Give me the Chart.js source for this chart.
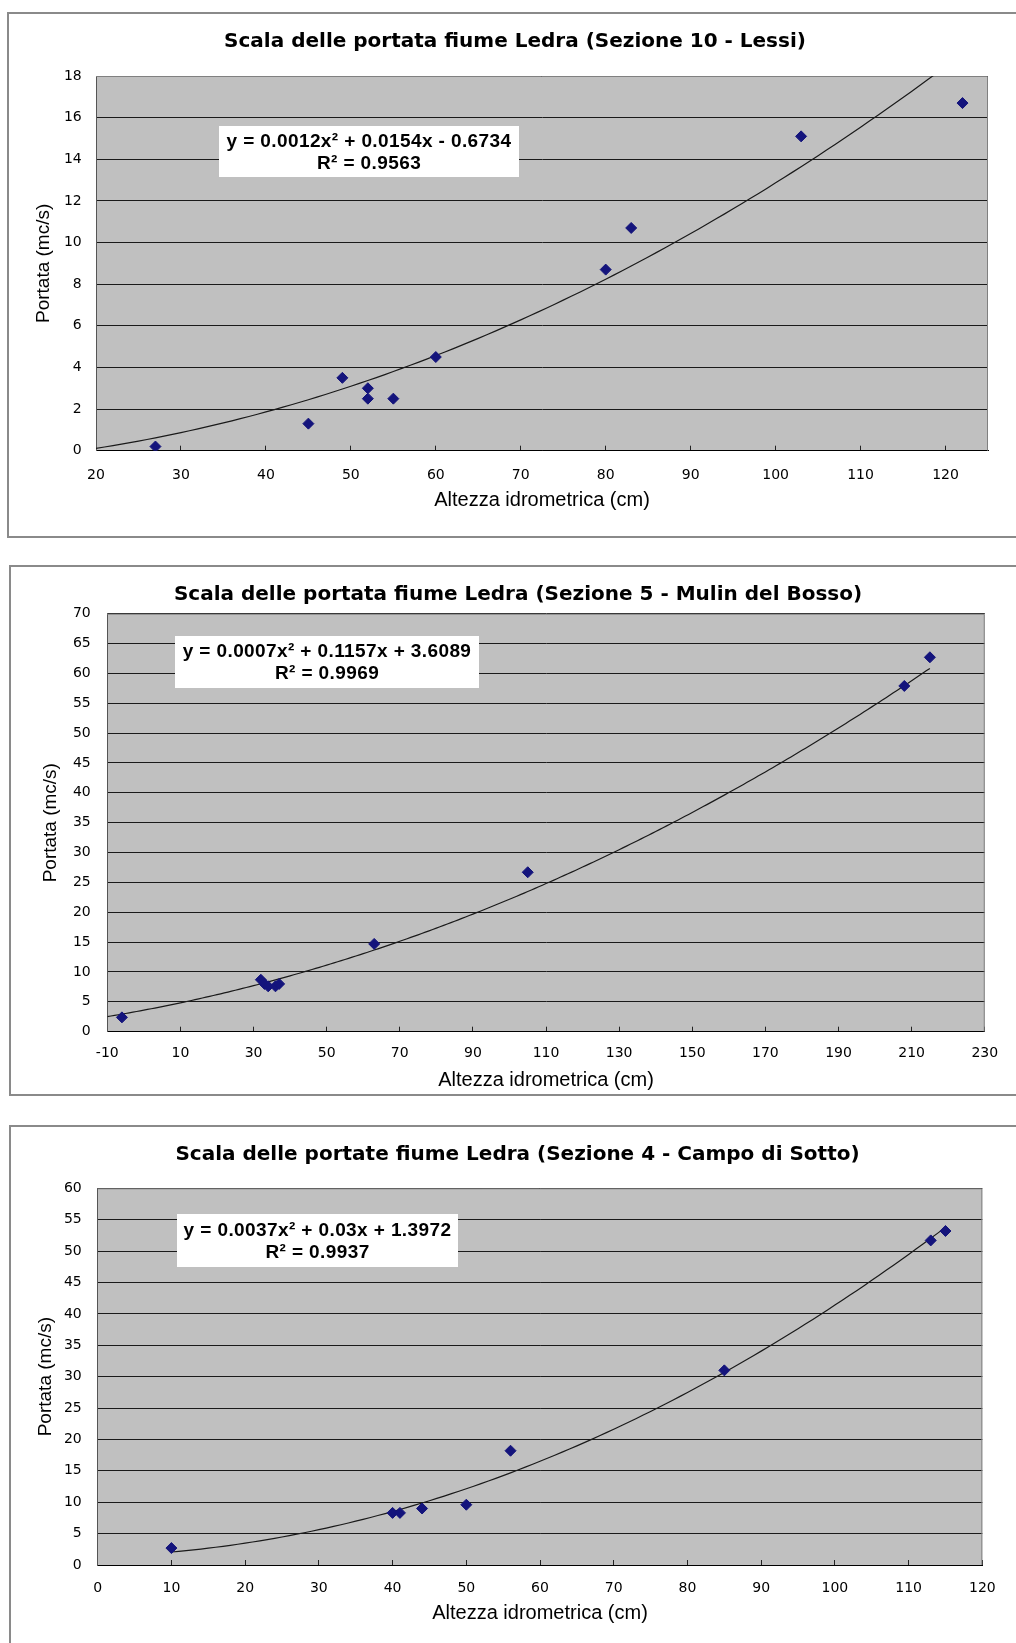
<!DOCTYPE html>
<html>
<head>
<meta charset="utf-8">
<script src="https://cdn.jsdelivr.net/npm/chart.js@4.4.1/dist/chart.umd.min.js"></script>
<style>
  html, body { margin: 0; padding: 0; background: #fff; overflow: hidden; }
  body { width: 1016px; height: 1643px; position: relative; }
  .wrap { position: absolute; left: 0; width: 1016px; }
  .frame { position: absolute; width: 1100px; border: 2px solid #8a8a8a; box-sizing: border-box; pointer-events: none; }
</style>
</head>
<body>
<div class="wrap" style="top:12px;height:525px"><canvas id="c1"></canvas></div>
<div class="frame" style="left:7px;top:12px;height:526px"></div>
<div class="wrap" style="top:565px;height:530px"><canvas id="c2"></canvas></div>
<div class="frame" style="left:9px;top:565px;height:531px"></div>
<div class="wrap" style="top:1125px;height:518px"><canvas id="c3"></canvas></div>
<div class="frame" style="left:9px;top:1125px;height:600px"></div>
<script>
// Sezione 10 - Lessi
const lessiH = [27, 45, 49, 52, 52, 55, 60, 80, 83, 103, 122];
const lessiQ = [0.2, 1.3, 3.5, 3.0, 2.5, 2.5, 4.5, 8.7, 10.7, 15.1, 16.7];
const lessiCoef = [0.0012, 0.0154, -0.6734];   // a x^2 + b x + c
const lessiTrendRange = [20, 122];
const lessiXTicks = [20, 30, 40, 50, 60, 70, 80, 90, 100, 110, 120];
const lessiYTicks = [0, 2, 4, 6, 8, 10, 12, 14, 16, 18];

// Sezione 5 - Mulin del Bosso
const bossoH = [-6, 32, 33, 34, 36, 37, 63, 105, 208, 215];
const bossoQ = [2.4, 8.7, 8.0, 7.6, 7.6, 8.0, 14.7, 26.7, 57.9, 62.7];
const bossoCoef = [0.0007, 0.1157, 3.6089];
const bossoTrendRange = [-10, 215];
const bossoXTicks = [-10, 10, 30, 50, 70, 90, 110, 130, 150, 170, 190, 210, 230];
const bossoYTicks = [0, 5, 10, 15, 20, 25, 30, 35, 40, 45, 50, 55, 60, 65, 70];

// Sezione 4 - Campo di Sotto
const campoH = [10, 40, 41, 44, 50, 56, 85, 113, 115];
const campoQ = [2.7, 8.3, 8.3, 9.0, 9.6, 18.2, 31.0, 51.7, 53.2];
const campoCoef = [0.0037, 0.03, 1.3972];
const campoTrendRange = [10, 115];
const campoXTicks = [0, 10, 20, 30, 40, 50, 60, 70, 80, 90, 100, 110, 120];
const campoYTicks = [0, 5, 10, 15, 20, 25, 30, 35, 40, 45, 50, 55, 60];

const xTitle = 'Altezza idrometrica (cm)';
const yTitle = 'Portata (mc/s)';

// trend line points straight from the equation printed on the chart
function trendPoints(coef, range) {
    const pts = [];
    for (let x = range[0]; x <= range[1]; x += 1) {
        pts.push({ x: x, y: coef[0] * x * x + coef[1] * x + coef[2] });
    }
    return pts;
}

const plotArea = {
    id: 'plotArea',
    beforeDraw(chart) {
        const a = chart.chartArea, ctx = chart.ctx;
        ctx.save();
        ctx.fillStyle = '#c0c0c0';
        ctx.fillRect(a.left, a.top, a.right - a.left, a.bottom - a.top);
        ctx.restore();
    },
    beforeDatasetsDraw(chart) {
        const a = chart.chartArea, ctx = chart.ctx;
        ctx.save();
        ctx.strokeStyle = '#808080';
        ctx.lineWidth = 1;
        ctx.beginPath();
        ctx.moveTo(a.left, a.top + 0.5);
        ctx.lineTo(a.right - 0.5, a.top + 0.5);
        ctx.lineTo(a.right - 0.5, a.bottom);
        ctx.stroke();
        ctx.restore();
    },
    afterDatasetsDraw(chart, args, opts) {
        const b = opts.box;
        if (!b) return;
        const ctx = chart.ctx;
        ctx.save();
        ctx.fillStyle = '#fff';
        ctx.fillRect(b.x, b.y, b.w, b.h);
        ctx.fillStyle = '#000';
        ctx.font = 'bold 19px "Liberation Sans", Arial, sans-serif';
        ctx.letterSpacing = '0.4px';
        ctx.textAlign = 'center';
        ctx.textBaseline = 'middle';
        ctx.fillText(opts.lines[0], b.x + b.w / 2, b.line1);
        ctx.fillText(opts.lines[1], b.x + b.w / 2, b.line2);
        ctx.restore();
    }
};

function makeChart(id, s) {
    new Chart(document.getElementById(id), {
        type: 'scatter',
        data: {
            datasets: [{
                data: s.h.map((v, i) => ({ x: v, y: s.q[i] })),
                pointStyle: 'rectRot',
                pointRadius: 5.5,
                pointBackgroundColor: '#14147c',
                pointBorderColor: '#14147c',
                pointBorderWidth: 1,
                showLine: false
            }, {
                type: 'line',
                data: trendPoints(s.coef, s.range),
                borderColor: '#1a1a1a',
                borderWidth: 1.2,
                pointRadius: 0,
                tension: 0,
                fill: false
            }]
        },
        options: {
            responsive: true,
            maintainAspectRatio: false,
            animation: false,
            events: [],
            layout: { padding: { left: s.padLeft, top: 0, bottom: 0, right: s.padRight } },
            plugins: {
                legend: { display: false },
                tooltip: { enabled: false },
                title: {
                    display: true,
                    text: s.title,
                    color: '#000',
                    font: { family: "'DejaVu Sans'", weight: 'bold', size: 20 },
                    padding: { top: 18, bottom: s.titleBottom }
                },
                plotArea: { box: s.box, lines: s.eq }
            },
            scales: {
                x: {
                    type: 'linear',
                    min: s.xTicks[0],
                    max: s.xTicks[s.xTicks.length - 1] + s.xExtra,
                    afterBuildTicks: sc => { sc.ticks = s.xTicks.map(v => ({ value: v })); },
                    afterFit: sc => { sc.height = s.xHeight; },
                    grid: { drawOnChartArea: false, drawTicks: true, tickLength: -5, color: '#222', lineWidth: 1 },
                    border: { display: true, color: '#000', width: 1 },
                    ticks: {
                        color: '#000', padding: s.xTickPad, maxRotation: 0, autoSkip: false,
                        font: { family: "'DejaVu Sans'", size: 14 }
                    },
                    title: {
                        display: true, text: xTitle, color: '#000',
                        font: { family: "'Liberation Sans'", size: 20 },
                        padding: { top: 0, bottom: s.xTitlePad }
                    }
                },
                y: {
                    min: s.yTicks[0],
                    max: s.yTicks[s.yTicks.length - 1],
                    afterBuildTicks: sc => { sc.ticks = s.yTicks.map(v => ({ value: v })); },
                    afterFit: sc => { sc.width = s.yWidth; },
                    grid: { drawTicks: false, color: '#1a1a1a', lineWidth: 1 },
                    border: { display: true, color: '#555', width: 1 },
                    ticks: {
                        color: '#000', padding: s.yTickPad,
                        font: { family: "'DejaVu Sans'", size: 14 }
                    },
                    title: {
                        display: true, text: yTitle, color: '#000',
                        font: { family: "'Liberation Sans'", size: 19 },
                        padding: { top: s.yTitlePad, bottom: 0 }
                    }
                }
            }
        },
        plugins: [plotArea]
    });
}

makeChart('c1', {
    title: 'Scala delle portata fiume Ledra (Sezione 10 - Lessi)',
    h: lessiH, q: lessiQ, coef: lessiCoef, range: lessiTrendRange,
    xTicks: lessiXTicks, yTicks: lessiYTicks, xExtra: 5,
    padLeft: 42, padRight: 28, titleBottom: 22, yWidth: 54, xHeight: 86.3,
    xTickPad: 20.9, xTitlePad: 25, yTickPad: 14.3, yTitlePad: -9.4,
    box: { x: 219, y: 114, w: 300, h: 51, line1: 130, line2: 152 },
    eq: ['y = 0.0012x² + 0.0154x - 0.6734', 'R² = 0.9563']
});

makeChart('c2', {
    title: 'Scala delle portata fiume Ledra (Sezione 5 - Mulin del Bosso)',
    h: bossoH, q: bossoQ, coef: bossoCoef, range: bossoTrendRange,
    xTicks: bossoXTicks, yTicks: bossoYTicks, xExtra: 0,
    padLeft: 45.3, padRight: 25.3, titleBottom: 6.7, yWidth: 62, xHeight: 63.3,
    xTickPad: 17.9, xTitlePad: 3, yTickPad: 16.6, yTitlePad: -6.2,
    box: { x: 175, y: 71, w: 304, h: 52, line1: 86.7, line2: 109 },
    eq: ['y = 0.0007x² + 0.1157x + 3.6089', 'R² = 0.9969']
});

makeChart('c3', {
    title: 'Scala delle portate fiume Ledra (Sezione 4 - Campo di Sotto)',
    h: campoH, q: campoQ, coef: campoCoef, range: campoTrendRange,
    xTicks: campoXTicks, yTicks: campoYTicks, xExtra: 0,
    padLeft: 45, padRight: 26, titleBottom: 21.3, yWidth: 52.7, xHeight: 78,
    xTickPad: 20.3, xTitlePad: 17.5, yTickPad: 16, yTitlePad: -11.1,
    box: { x: 177, y: 89, w: 281, h: 53, line1: 106, line2: 128 },
    eq: ['y = 0.0037x² + 0.03x + 1.3972', 'R² = 0.9937']
});
</script>
</body>
</html>
